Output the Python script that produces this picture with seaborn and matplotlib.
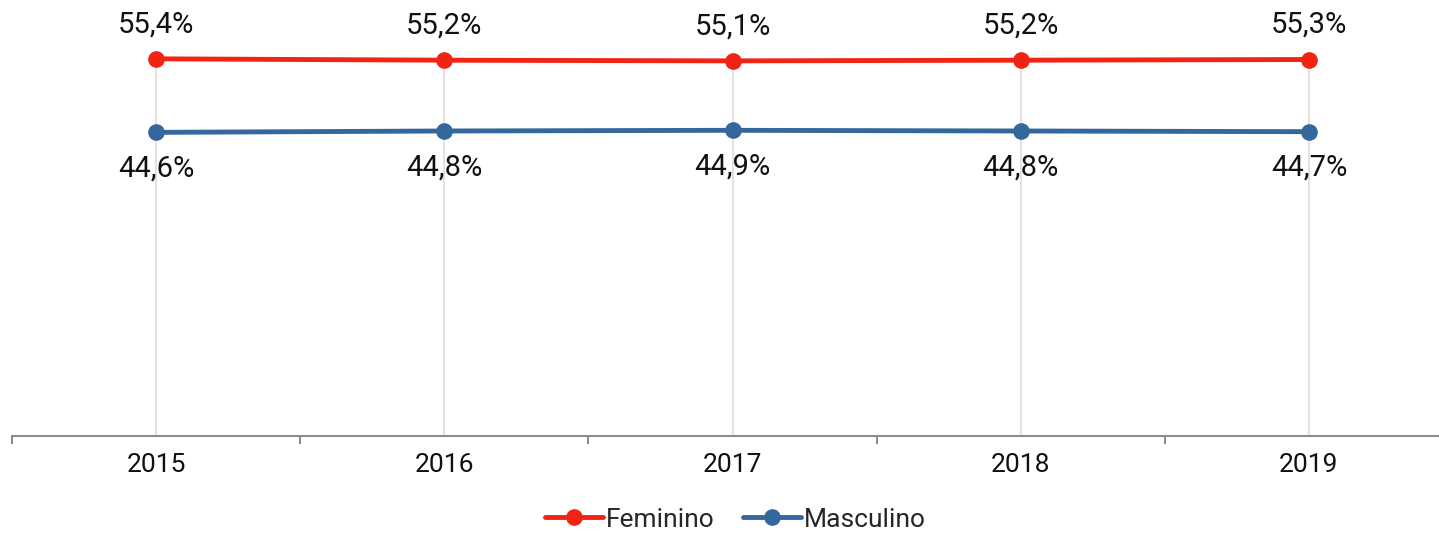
import numpy as np
import pandas as pd
import matplotlib
matplotlib.use("Agg")
import matplotlib.pyplot as plt
import seaborn as sns
from matplotlib.ticker import FixedLocator

# data
YEARS     = ["2015", "2016", "2017", "2018", "2019"]
FEMININO  = [55.4, 55.2, 55.1, 55.2, 55.3]
MASCULINO = [44.6, 44.8, 44.9, 44.8, 44.7]
SERIES    = ["Feminino", "Masculino"]
COLOURS   = {"Feminino": "#F02414", "Masculino": "#34689C"}

df = pd.DataFrame({
    "ano":   YEARS * 2,
    "valor": FEMININO + MASCULINO,
    "sexo":  ["Feminino"] * len(YEARS) + ["Masculino"] * len(YEARS),
})

sns.set_style("white")
plt.rcParams["font.family"] = ["Roboto", "DejaVu Sans"]

fig = plt.figure(figsize=(14.39, 5.33), dpi=100)
# plot area spans x 12..1453 px (right edge cropped), axis line at y=436 px
ax = fig.add_axes([12 / 1439, (533 - 436) / 533, 1441 / 1439, 433 / 533])

sns.lineplot(
    data=df, x="ano", y="valor", hue="sexo", hue_order=SERIES,
    palette=COLOURS, marker="o", markersize=12, markeredgewidth=0,
    linewidth=3.5, ax=ax, legend=True, zorder=3,
)

pos = np.arange(len(YEARS))
# drop lines from the highest series down to the axis
tops = np.maximum(FEMININO, MASCULINO)
ax.vlines(pos, 0, tops, color="#DDDDDD", linewidth=1.2, zorder=1)

ax.set_xlim(-0.5, len(YEARS) - 0.5)
ax.set_ylim(0, 63.6)

for x, v in zip(pos, FEMININO):
    ax.annotate(f"{v:.1f}%".replace(".", ","), (x, v), xytext=(0, 25),
                textcoords="offset points", ha="center", va="center",
                fontsize=21, color="#111111")
for x, v in zip(pos, MASCULINO):
    ax.annotate(f"{v:.1f}%".replace(".", ","), (x, v), xytext=(0, -26),
                textcoords="offset points", ha="center", va="center",
                fontsize=21, color="#111111")

ax.set_xlabel("")
ax.set_ylabel("")
ax.set_yticks([])
ax.set_xticks(pos)
ax.set_xticklabels(YEARS, fontsize=19, color="#111111")
ax.xaxis.set_minor_locator(FixedLocator(np.arange(-0.5, len(YEARS), 1.0)))
ax.tick_params(axis="x", which="major", bottom=False, length=0, pad=12)
ax.tick_params(axis="x", which="minor", bottom=True, length=5.5, width=1.5,
               color="#8C8C8C", direction="out")
for s in ["top", "right", "left"]:
    ax.spines[s].set_visible(False)
ax.spines["bottom"].set_color("#8C8C8C")
ax.spines["bottom"].set_linewidth(1.5)

handles, labels = ax.get_legend_handles_labels()
ax.get_legend().remove()
fig.legend(handles, labels, loc="center", bbox_to_anchor=(0.511, 0.025),
           ncol=2, frameon=False, fontsize=19, handlelength=2.2,
           handletextpad=0.1, columnspacing=1.1)

fig.savefig("out.png", dpi=100)
plt.close(fig)
